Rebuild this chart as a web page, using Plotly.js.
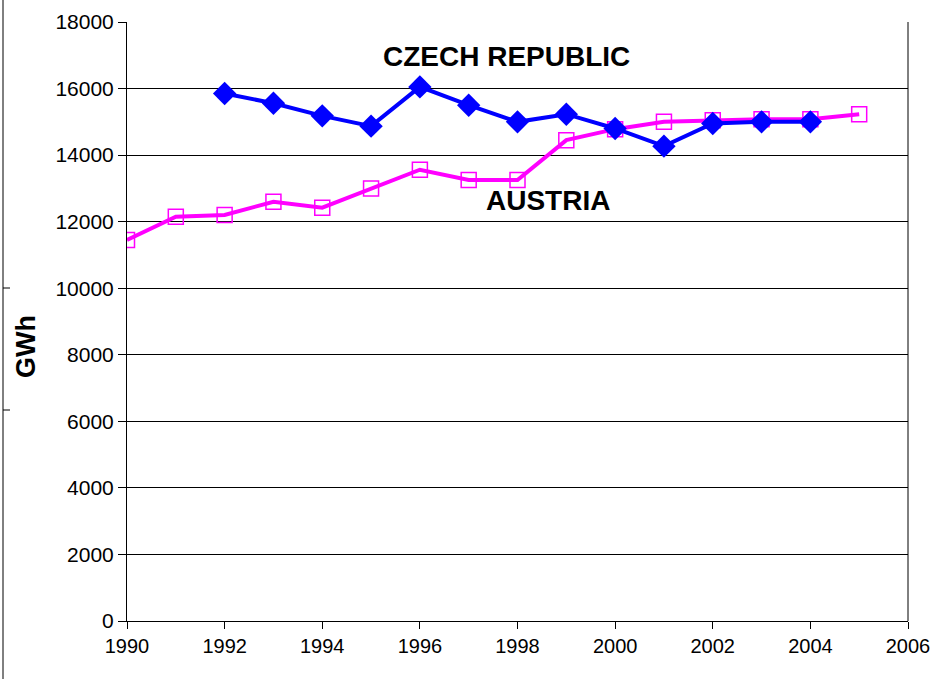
<!DOCTYPE html>
<html>
<head>
<meta charset="utf-8">
<script src="https://cdn.plot.ly/plotly-3.0.1.min.js"></script>
<style>html,body{margin:0;padding:0;background:#fff;}</style>
</head>
<body>
<div id="chart" style="width:931px;height:679px;"></div>
<script>
const czechYears = [1992,1993,1994,1995,1996,1997,1998,1999,2000,2001,2002,2003,2004];
const czechValues = [15850,15560,15180,14870,16050,15500,15000,15230,14800,14270,14950,15000,15000];
const austriaYears = [1990,1991,1992,1993,1994,1995,1996,1997,1998,1999,2000,2001,2002,2003,2004,2005];
const austriaValues = [11450,12150,12200,12600,12420,13000,13560,13250,13250,14450,14780,15000,15050,15080,15080,15230];
const xTicks = [1990,1992,1994,1996,1998,2000,2002,2004,2006];
const yTicks = [0,2000,4000,6000,8000,10000,12000,14000,16000,18000];

const W = 931, H = 679, L = 127, R = 23, T = 22, B = 58;
const pw = W - L - R, ph = H - T - B;
const px = p => (p - L) / pw;
const py = p => (H - B - p) / ph;

const data = [
  {x: austriaYears, y: austriaValues, type: 'scatter', mode: 'lines+markers', name: 'AUSTRIA',
   line: {color: '#ff00ff', width: 4},
   marker: {symbol: 'square-open', size: 15, color: '#ff00ff', line: {width: 1.5, color: '#ff00ff'}}},
  {x: czechYears, y: czechValues, type: 'scatter', mode: 'lines+markers', name: 'CZECH REPUBLIC',
   line: {color: '#0000ff', width: 4},
   marker: {symbol: 'diamond', size: 18, color: '#0000ff'}}
];

const layout = {
  width: W, height: H,
  margin: {l: L, r: R, t: T, b: B},
  paper_bgcolor: '#ffffff', plot_bgcolor: '#ffffff',
  showlegend: false,
  font: {family: 'Liberation Sans, Arial, sans-serif', color: '#000', size: 20},
  xaxis: {range: [1990, 2006], tickvals: xTicks, ticktext: xTicks.map(String),
          ticks: 'outside', ticklen: 7, tickcolor: '#000', showgrid: false,
          showline: true, linecolor: '#000', linewidth: 1, mirror: false, zeroline: false,
          tickfont: {size: 20}},
  yaxis: {range: [0, 18000], tickvals: yTicks, ticktext: yTicks.map(String),
          ticks: 'outside', ticklen: 8, tickcolor: '#000', showgrid: true, gridcolor: '#000', gridwidth: 1,
          showline: true, linecolor: '#000', linewidth: 1, zeroline: false,
          tickfont: {size: 21}},
  shapes: [
    {type: 'line', xref: 'paper', yref: 'paper', x0: 1, x1: 1, y0: 0, y1: 1, line: {color: '#000', width: 1}},
    {type: 'line', xref: 'paper', yref: 'paper', x0: px(3), x1: px(3), y0: py(0), y1: py(679), line: {color: '#000', width: 1}},
    {type: 'line', xref: 'paper', yref: 'paper', x0: px(3), x1: px(10), y0: py(288), y1: py(288), line: {color: '#000', width: 1}},
    {type: 'line', xref: 'paper', yref: 'paper', x0: px(3), x1: px(10), y0: py(410), y1: py(410), line: {color: '#000', width: 1}}
  ],
  annotations: [
    {text: '<b>GWh</b>', x: px(26), y: py(347), xref: 'paper', yref: 'paper', showarrow: false,
     xanchor: 'center', yanchor: 'middle', textangle: -90, font: {size: 27, color: '#000'}},
    {text: '<b>CZECH REPUBLIC</b>', x: px(506), y: py(57), xref: 'paper', yref: 'paper', showarrow: false,
     xanchor: 'center', yanchor: 'middle', font: {size: 28, color: '#000'}},
    {text: '<b>AUSTRIA</b>', x: px(548), y: py(200), xref: 'paper', yref: 'paper', showarrow: false,
     xanchor: 'center', yanchor: 'middle', font: {size: 28, color: '#000'}}
  ]
};

Plotly.newPlot('chart', data, layout, {displayModeBar: false, staticPlot: true});
</script>
</body>
</html>
